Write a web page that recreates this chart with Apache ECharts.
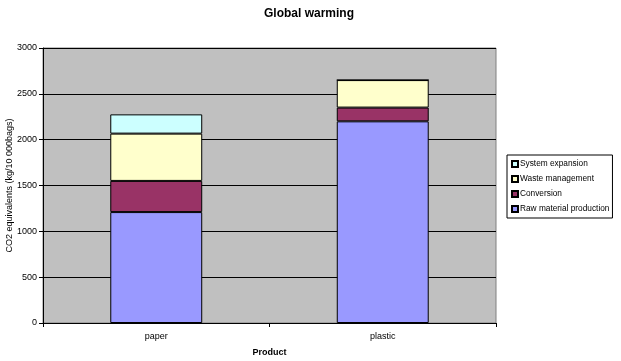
<!DOCTYPE html>
<html><head><meta charset="utf-8">
<script src="https://cdn.jsdelivr.net/npm/echarts@6/dist/echarts.min.js"></script>
<style>html,body{margin:0;padding:0;background:#fff}#c{width:621px;height:361px}</style>
</head><body><div id="c"></div>
<script>
var categories = ['paper', 'plastic'];
var rawMaterial = [1210, 2200];
var conversion = [340, 150];
var wasteManagement = [516, 300];
var systemExpansion = [210, 0];
var yTicks = [0, 500, 1000, 1500, 2000, 2500, 3000];

var chart = echarts.init(document.getElementById('c'));
function s(name, data, color) {
  return {name: name, type: 'bar', stack: 'a', data: data, barWidth: '40.6%',
    itemStyle: {color: color, borderColor: '#000', borderWidth: 1}};
}
chart.setOption({
  animation: false,
  textStyle: {fontFamily: 'Liberation Sans, Arial, sans-serif'},
  title: {text: 'Global warming', left: 304, top: 3, textAlign: 'center',
    textStyle: {fontSize: 12, fontWeight: 'bold', color: '#000'}},
  legend: {orient: 'vertical', left: 507, top: 155,
    data: ['System expansion', 'Waste management', 'Conversion', 'Raw material production'],
    icon: 'rect', itemWidth: 6, itemHeight: 6, itemGap: 7, padding: [5, 3, 5, 4],
    borderColor: '#000', borderWidth: 1, backgroundColor: '#fff',
    textStyle: {fontSize: 8.3, color: '#000', padding: [0, 0, 0, -3]}},
  grid: {left: 43, right: 125, top: 48, bottom: 38, show: true, outerBoundsMode: 'none', containLabel: false,
    backgroundColor: '#C0C0C0', borderColor: '#808080', borderWidth: 1},
  xAxis: {type: 'category', data: categories, name: 'Product', nameLocation: 'middle', nameGap: 25,
    nameTextStyle: {fontSize: 9, fontWeight: 'bold', color: '#000'},
    axisLine: {lineStyle: {color: '#000'}}, axisTick: {show: true, length: 4, lineStyle: {color: '#000'}},
    axisLabel: {fontSize: 9, color: '#000', margin: 9}},
  yAxis: {type: 'value', min: 0, max: 3000, interval: 500,
    name: 'CO2 equivalents (kg/10 000bags)', nameLocation: 'middle', nameGap: 29, nameMoveOverlap: false,
    nameTextStyle: {fontSize: 9, color: '#000'},
    axisLine: {show: true, lineStyle: {color: '#000'}}, axisTick: {show: true, length: 4, lineStyle: {color: '#000'}},
    axisLabel: {fontSize: 9, color: '#000', margin: 6, formatter: function (v) { return String(v); }},
    splitLine: {lineStyle: {color: '#000', width: 1}}},
  series: [
    s('Raw material production', rawMaterial, '#9999FF'),
    s('Conversion', conversion, '#993366'),
    s('Waste management', wasteManagement, '#FFFFCC'),
    s('System expansion', systemExpansion, '#CCFFFF')
  ]
});
</script></body></html>
